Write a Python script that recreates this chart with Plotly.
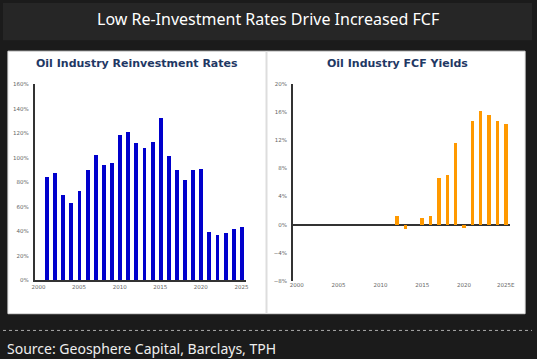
import plotly.graph_objects as go

# ---- data ----
reinv_years = list(range(2001, 2026))
reinv_values = [84, 87, 69, 63, 73, 90, 102, 94, 95.5, 118, 121, 112, 108, 112.5, 132,
                101, 89.5, 81.5, 89.5, 91, 39.5, 37, 38.5, 41.5, 43.5]

fcf_years = [2012, 2013, 2015, 2016, 2017, 2018, 2019, 2020, 2021, 2022, 2023, 2024, 2025]
fcf_values = [1.3, -0.55, 1.05, 1.3, 6.6, 7.1, 11.7, -0.45, 14.8, 16.1, 15.6, 14.7, 14.3]

x_ticks = [2000, 2005, 2010, 2015, 2020, 2025]
left_xlabels = ["2000", "2005", "2010", "2015", "2020", "2025"]
right_xlabels = ["2000", "2005", "2010", "2015", "2020", "2025E"]

main_title = "Low Re-Investment Rates Drive Increased FCF"
left_title = "Oil Industry Reinvestment Rates"
right_title = "Oil Industry FCF Yields"
source_text = "Source: Geosphere Capital, Barclays, TPH"

W, H = 537, 359


def px(x):
    return x / W


def py(y):
    return 1 - y / H


fig = go.Figure()

fig.add_trace(go.Bar(x=reinv_years, y=reinv_values, marker_color="#0000CC",
                     marker_line_width=0, width=0.48, xaxis="x", yaxis="y",
                     showlegend=False))
fig.add_trace(go.Bar(x=fcf_years, y=fcf_values, marker_color="#FF9900",
                     marker_line_width=0, width=0.42, xaxis="x2", yaxis="y2",
                     showlegend=False))

tick_font = dict(family="DejaVu Sans", size=5.5, color="#666666")

fig.update_layout(
    width=W, height=H,
    margin=dict(l=0, r=0, t=0, b=0),
    paper_bgcolor="#1b1b1b",
    plot_bgcolor="rgba(0,0,0,0)",
    bargap=0,
    xaxis=dict(domain=[px(32), px(247)], range=[1999.515, 2025.607],
               tickvals=x_ticks, ticktext=left_xlabels, showgrid=False,
               zeroline=False, showline=True, linecolor="#333333", linewidth=1.5,
               ticks="", tickfont=tick_font, anchor="y"),
    yaxis=dict(domain=[py(282), py(82.7)], range=[0, 160], dtick=20,
               ticksuffix="%", showgrid=False, zeroline=False, showline=True,
               linecolor="#333333", linewidth=1.5, ticks="", tickfont=tick_font,
               ticklabelstandoff=3, anchor="x"),
    xaxis2=dict(domain=[px(294.3), px(514.3)], range=[1999.53, 2025.47],
                tickvals=x_ticks, ticktext=right_xlabels, showgrid=False,
                zeroline=False, showline=False, ticks="", tickfont=tick_font,
                anchor="y2"),
    yaxis2=dict(domain=[py(282.7), py(82)], range=[-8, 20], dtick=4,
                ticksuffix="%", showgrid=False, zeroline=True,
                zerolinecolor="#333333", zerolinewidth=1.5, showline=True,
                linecolor="#333333", linewidth=1.5, ticks="", tickfont=tick_font,
                ticklabelstandoff=3, anchor="x2"),
    shapes=[
        dict(type="rect", xref="paper", yref="paper", x0=0, x1=1, y0=py(38), y1=1,
             fillcolor="#262626", line_width=0, layer="below"),
        dict(type="rect", xref="paper", yref="paper", x0=px(5), x1=px(530),
             y0=py(316), y1=py(49), fillcolor="white", line=dict(color="#dddddd", width=1),
             layer="below"),
        dict(type="line", xref="paper", yref="paper", x0=px(267.5), x1=px(267.5),
             y0=py(316), y1=py(49), line=dict(color="#dddddd", width=2), layer="below"),
        dict(type="line", xref="paper", yref="paper", x0=0, x1=1,
             y0=py(333), y1=py(333), line=dict(color="#aaaaaa", width=1, dash="dot")),
    ],
    annotations=[
        dict(text=main_title, xref="paper", yref="paper", x=0.5, y=py(16),
             xanchor="center", yanchor="middle", showarrow=False,
             font=dict(family="Noto Sans", size=16, color="white")),
        dict(text="<b>" + left_title + "</b>", xref="paper", yref="paper",
             x=px(136), y=py(62), xanchor="center", yanchor="middle", showarrow=False,
             font=dict(family="DejaVu Sans", size=11, color="#1F3864")),
        dict(text="<b>" + right_title + "</b>", xref="paper", yref="paper",
             x=px(400), y=py(62), xanchor="center", yanchor="middle", showarrow=False,
             font=dict(family="DejaVu Sans", size=11, color="#1F3864")),
        dict(text=source_text, xref="paper", yref="paper", x=px(2), y=py(351),
             xanchor="left", yanchor="middle", showarrow=False,
             font=dict(family="Noto Sans", size=14, color="#eeeeee")),
    ],
)

fig.write_html("out.html", config={"displayModeBar": False},
               post_script="document.body.style.margin='0';document.body.style.overflow='hidden';")
